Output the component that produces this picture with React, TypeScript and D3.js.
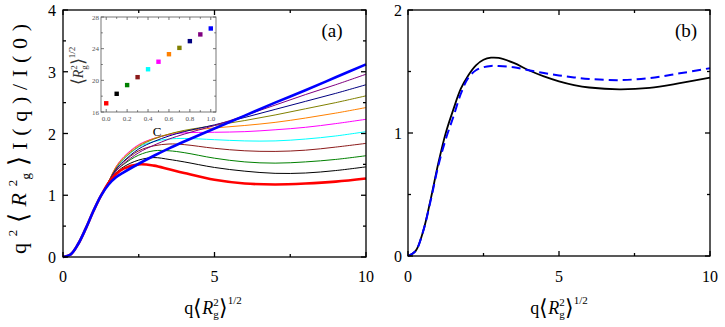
import * as d3 from "d3";

const W = 725;
const H = 327;
const SERIF = "'Liberation Serif', 'Times New Roman', serif";

// panel (a): q grid and one series per concentration C
const qA = [0, 0.25, 0.5, 0.75, 1, 1.25, 1.5, 1.75, 2, 2.5, 3, 3.5, 4, 5, 6, 7, 8, 9, 10];
const c00 = [0, 0.04, 0.21, 0.46, 0.74, 0.99, 1.2, 1.34, 1.43, 1.5, 1.48, 1.42, 1.36, 1.25, 1.19, 1.175, 1.19, 1.22, 1.27];
const c01 = [0, 0.04, 0.21, 0.46, 0.74, 0.99, 1.2, 1.36, 1.46, 1.57, 1.61, 1.58, 1.54, 1.45, 1.39, 1.355, 1.36, 1.4, 1.46];
const c02 = [0, 0.04, 0.21, 0.46, 0.74, 0.99, 1.21, 1.39, 1.5, 1.65, 1.72, 1.72, 1.69, 1.6, 1.54, 1.52, 1.54, 1.58, 1.64];
const c03 = [0, 0.04, 0.21, 0.46, 0.74, 0.99, 1.21, 1.41, 1.54, 1.72, 1.8, 1.83, 1.82, 1.76, 1.72, 1.71, 1.73, 1.78, 1.84];
const c04 = [0, 0.04, 0.21, 0.46, 0.74, 0.99, 1.22, 1.43, 1.58, 1.78, 1.87, 1.91, 1.92, 1.9, 1.88, 1.88, 1.91, 1.96, 2.03];
const c05 = [0, 0.04, 0.21, 0.46, 0.74, 0.99, 1.22, 1.46, 1.62, 1.82, 1.92, 1.98, 2.01, 2.02, 2.03, 2.06, 2.1, 2.16, 2.23];
const c06 = [0, 0.04, 0.21, 0.46, 0.74, 0.99, 1.22, 1.46, 1.61, 1.81, 1.92, 1.99, 2.04, 2.09, 2.13, 2.18, 2.25, 2.33, 2.42];
const c07 = [0, 0.04, 0.21, 0.46, 0.74, 0.99, 1.22, 1.44, 1.59, 1.79, 1.91, 1.99, 2.05, 2.13, 2.21, 2.3, 2.4, 2.5, 2.61];
const c08 = [0, 0.04, 0.21, 0.46, 0.74, 0.99, 1.21, 1.42, 1.55, 1.75, 1.87, 1.96, 2.03, 2.14, 2.26, 2.39, 2.52, 2.65, 2.79];
const c09 = [0, 0.04, 0.21, 0.46, 0.74, 0.99, 1.21, 1.39, 1.51, 1.69, 1.81, 1.91, 1.99, 2.13, 2.29, 2.46, 2.63, 2.79, 2.96];
const c10 = [0, 0.04, 0.21, 0.46, 0.74, 0.99, 1.17, 1.29, 1.37, 1.51, 1.64, 1.76, 1.87, 2.08, 2.29, 2.5, 2.7, 2.91, 3.12];

const seriesA = [c00, c01, c02, c03, c04, c05, c06, c07, c08, c09, c10];
const colors = ["#ff0000", "#000000", "#008000", "#8b1a1a", "#00ffff", "#ff00ff", "#ff8000", "#808000", "#000080", "#800080", "#0000ff"];

// inset: Rg^1/2 against C
const concs = [0, 0.1, 0.2, 0.3, 0.4, 0.5, 0.6, 0.7, 0.8, 0.9, 1.0];
const rg = [17.1, 18.3, 19.4, 20.4, 21.4, 22.35, 23.3, 24.1, 24.95, 25.8, 26.55];

// panel (b)
const qB = [0, 0.25, 0.5, 0.75, 1, 1.25, 1.5, 1.75, 2, 2.25, 2.5, 2.75, 3, 3.5, 4, 4.5, 5, 5.5, 6, 7, 8, 9, 10];
const solidB = [0, 0.04, 0.2, 0.46, 0.75, 1.0, 1.19, 1.36, 1.47, 1.55, 1.595, 1.612, 1.61, 1.57, 1.51, 1.46, 1.42, 1.39, 1.37, 1.355, 1.367, 1.405, 1.45];
const dashB = [0, 0.04, 0.2, 0.45, 0.73, 0.95, 1.13, 1.32, 1.45, 1.51, 1.535, 1.545, 1.545, 1.535, 1.51, 1.488, 1.468, 1.452, 1.44, 1.43, 1.447, 1.485, 1.527];

const xTicks = [0, 5, 10];
const xMinor = [2.5, 7.5];

function Frame({ x, y, xMajor, xMin, yMajor, yMin, major = 5, minor = 3, stroke = "#000", sw = 1.3 }) {
  const [x0, x1] = x.range();
  const [y0, y1] = y.range();
  const tick = (v, len, key) => (
    <g key={key}>
      <line x1={x(v)} x2={x(v)} y1={y0} y2={y0 - len} />
      <line x1={x(v)} x2={x(v)} y1={y1} y2={y1 + len} />
    </g>
  );
  const ytick = (v, len, key) => (
    <g key={key}>
      <line x1={x0} x2={x0 + len} y1={y(v)} y2={y(v)} />
      <line x1={x1} x2={x1 - len} y1={y(v)} y2={y(v)} />
    </g>
  );
  return (
    <g stroke={stroke} strokeWidth={sw} fill="none">
      <rect x={x0} y={y1} width={x1 - x0} height={y0 - y1} />
      {xMajor.map((v) => tick(v, major, `xM${v}`))}
      {xMin.map((v) => tick(v, minor, `xm${v}`))}
      {yMajor.map((v) => ytick(v, major, `yM${v}`))}
      {yMin.map((v) => ytick(v, minor, `ym${v}`))}
    </g>
  );
}

function QLabel({ cx, y }) {
  return (
    <text x={cx} y={y} textAnchor="middle" fontFamily={SERIF} fontSize={18}>
      <tspan>q</tspan>
      <tspan fontSize={22} fontWeight={300} dy={1}>⟨</tspan>
      <tspan fontStyle="italic" dy={-1}>R</tspan>
      <tspan fontSize={11} dy={-8}>2</tspan>
      <tspan fontSize={11} dx={-5.5} dy={12}>g</tspan>
      <tspan fontSize={22} fontWeight={300} dy={-3}>⟩</tspan>
      <tspan fontSize={11} dy={-11}>1/2</tspan>
    </text>
  );
}

export default function App() {
  const xA = d3.scaleLinear().domain([0, 10]).range([63, 366]);
  const yA = d3.scaleLinear().domain([0, 4]).range([257, 10]);
  const xB = d3.scaleLinear().domain([0, 10]).range([408, 710]);
  const yB = d3.scaleLinear().domain([0, 2]).range([256, 10]);
  const xI = d3.scaleLinear().domain([-0.05, 1.05]).range([101, 216]);
  const yI = d3.scaleLinear().domain([16, 28]).range([112, 17]);

  const lineA = d3
    .line<number>()
    .x((_, i) => xA(qA[i]))
    .y((d) => yA(d))
    .curve(d3.curveCatmullRom.alpha(0.5));
  const lineB = d3
    .line<number>()
    .x((_, i) => xB(qB[i]))
    .y((d) => yB(d))
    .curve(d3.curveCatmullRom.alpha(0.5));

  const order = [1, 2, 3, 4, 5, 6, 7, 8, 9, 0, 10];

  return (
    <svg width={W} height={H} style={{ position: "absolute", left: 0, top: 0, background: "#fff" }}>
      <rect width={W} height={H} fill="#fff" />

      {/* panel (a) */}
      <g fill="none" strokeLinejoin="round">
        {order.map((i) => (
          <path key={i} d={lineA(seriesA[i]) || ""} stroke={colors[i]} strokeWidth={i === 0 || i === 10 ? 2.6 : 1} />
        ))}
      </g>
      <Frame x={xA} y={yA} xMajor={xTicks} xMin={xMinor} yMajor={[0, 1, 2, 3, 4]} yMin={[0.5, 1.5, 2.5, 3.5]} />
      <g fontFamily={SERIF} fontSize={16}>
        {xTicks.map((t) => (
          <text key={t} x={xA(t)} y={282} textAnchor="middle">{t}</text>
        ))}
        {[0, 1, 2, 3, 4].map((t) => (
          <text key={t} x={56} y={yA(t) + 6} textAnchor="end">{t}</text>
        ))}
      </g>
      <text x={332} y={37} textAnchor="middle" fontFamily={SERIF} fontSize={19}>(a)</text>
      <QLabel cx={213} y={314} />
      <text
        transform="translate(26,139) rotate(-90)"
        textAnchor="middle"
        fontFamily={SERIF}
        fontSize={22}
        textLength={230}
        lengthAdjust="spacing"
      >
        <tspan>q</tspan>
        <tspan fontSize={13} dy={-9}>2</tspan>
        <tspan fontSize={26} dy={10}>⟨</tspan>
        <tspan fontStyle="italic" dy={-1}>R</tspan>
        <tspan fontSize={13} dy={-9}>2</tspan>
        <tspan fontSize={13} dx={-6.5} dy={13}>g</tspan>
        <tspan fontSize={26} dy={-3}>⟩</tspan>
        <tspan>I(q)/I(0)</tspan>
      </text>

      {/* inset */}
      <rect x={101} y={17} width={115} height={95} fill="#fff" />
      <Frame
        x={xI}
        y={yI}
        xMajor={[0, 0.2, 0.4, 0.6, 0.8, 1.0]}
        xMin={[0.1, 0.3, 0.5, 0.7, 0.9]}
        yMajor={[16, 20, 24, 28]}
        yMin={[18, 22, 26]}
        major={3}
        minor={1.8}
        stroke="#555"
        sw={0.8}
      />
      {concs.map((c, i) => (
        <rect key={c} x={xI(c) - 2.2} y={yI(rg[i]) - 2.2} width={4.4} height={4.4} fill={colors[i]} />
      ))}
      <g fontFamily={SERIF} fontSize={7} fill="#555">
        {[0, 0.2, 0.4, 0.6, 0.8, 1.0].map((t) => (
          <text key={t} x={xI(t)} y={121} textAnchor="middle">{t.toFixed(1)}</text>
        ))}
        {[16, 20, 24, 28].map((t) => (
          <text key={t} x={99} y={yI(t) + 2.5} textAnchor="end">{t}</text>
        ))}
      </g>
      <text x={157} y={136} textAnchor="middle" fontFamily={SERIF} fontSize={13}>C</text>
      <text transform="translate(83,66) rotate(-90)" textAnchor="middle" fontFamily={SERIF} fontSize={14} fill="#333">
        <tspan fontSize={18} dy={1}>⟨</tspan>
        <tspan fontStyle="italic" dy={-1}>R</tspan>
        <tspan fontSize={9} dy={-6}>2</tspan>
        <tspan fontSize={9} dx={-4.5} dy={10}>g</tspan>
        <tspan fontSize={18} dy={-3}>⟩</tspan>
        <tspan fontSize={9} dy={-9}>1/2</tspan>
      </text>

      {/* panel (b) */}
      <path d={lineB(solidB) || ""} fill="none" stroke="#000" strokeWidth={1.8} />
      <path d={lineB(dashB) || ""} fill="none" stroke="#0000ff" strokeWidth={2} strokeDasharray="9,5" />
      <Frame x={xB} y={yB} xMajor={xTicks} xMin={xMinor} yMajor={[0, 1, 2]} yMin={[0.5, 1.5]} />
      <g fontFamily={SERIF} fontSize={16}>
        {xTicks.map((t) => (
          <text key={t} x={xB(t)} y={282} textAnchor="middle">{t}</text>
        ))}
        {[0, 1, 2].map((t) => (
          <text key={t} x={402} y={yB(t) + 6} textAnchor="end">{t}</text>
        ))}
      </g>
      <text x={686} y={37} textAnchor="middle" fontFamily={SERIF} fontSize={19}>(b)</text>
      <QLabel cx={559} y={314} />
    </svg>
  );
}
